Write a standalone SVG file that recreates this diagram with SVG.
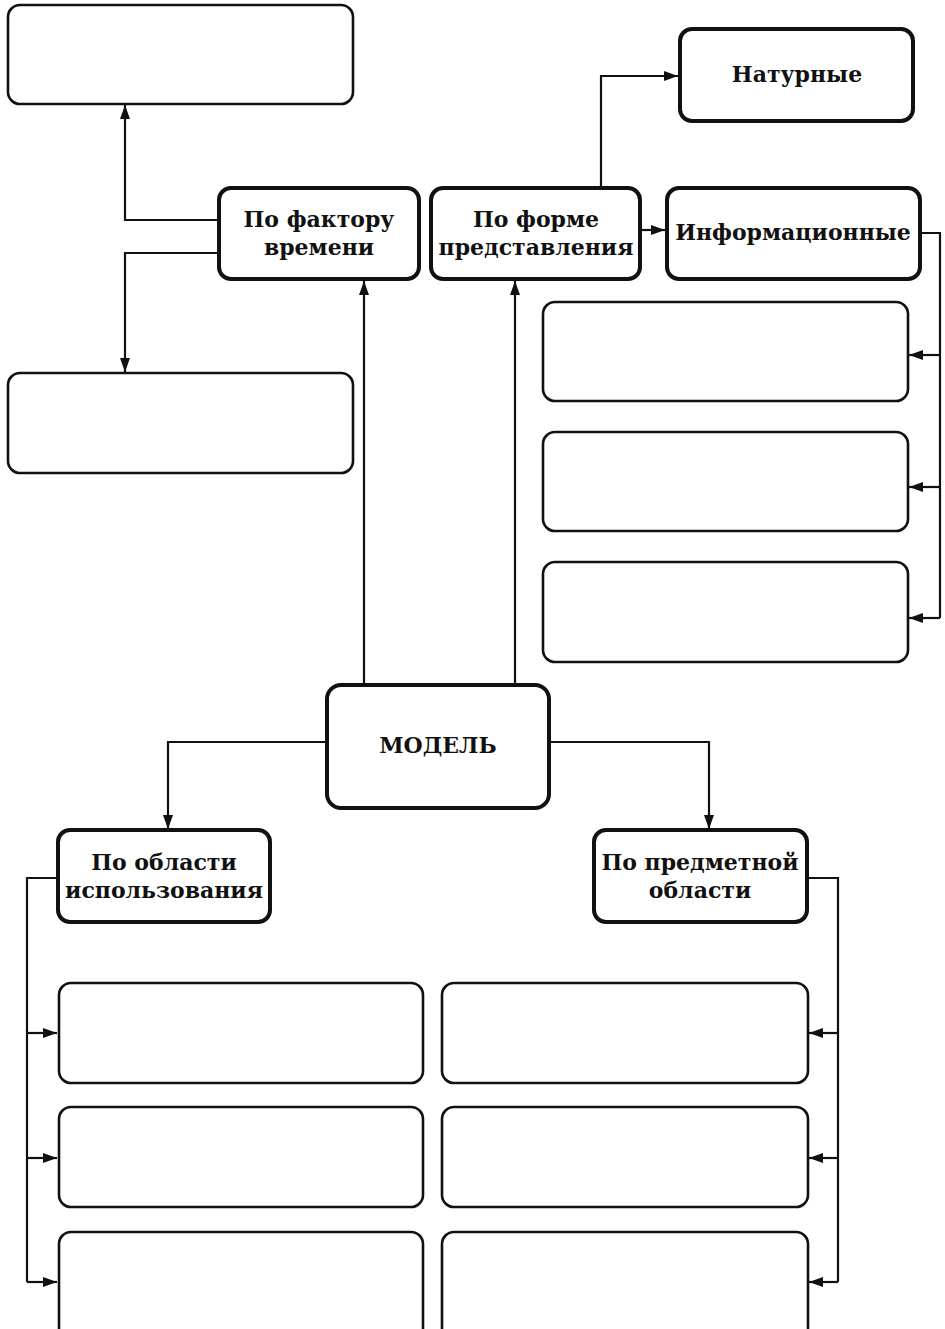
<svg xmlns="http://www.w3.org/2000/svg" width="945" height="1329" viewBox="0 0 945 1329">
<style>
.bg{fill:#fff}
.thin{fill:#fff;stroke:#111;stroke-width:2.6}
.thick{fill:#fff;stroke:#111;stroke-width:4}
.line{fill:none;stroke:#111;stroke-width:2.2}
.arr{marker-end:url(#ah)}
text{font-family:"DejaVu Serif","Liberation Serif",serif;font-weight:bold;font-size:22px;fill:#111;text-anchor:middle}
</style>
<defs>
<marker id="ah" markerUnits="userSpaceOnUse" markerWidth="16" markerHeight="12" refX="14" refY="5" orient="auto">
<path d="M0,0 L14,5 L0,10 z" fill="#111"/>
</marker>
</defs>
<rect class="bg" width="945" height="1329"/>
<g id="connectors">
<path class="line arr" d="M218,220 H125 V105"/>
<path class="line arr" d="M218,253 H125 V372"/>
<path class="line arr" d="M601,188 V76 H678"/>
<path class="line arr" d="M640,230 H665"/>
<path class="line" d="M921,233 H940 V618"/>
<path class="line arr" d="M940,355 H909"/>
<path class="line arr" d="M940,487 H909"/>
<path class="line arr" d="M940,618 H909"/>
<path class="line arr" d="M364,685 V281"/>
<path class="line arr" d="M515,685 V281"/>
<path class="line arr" d="M326,742 H168 V829"/>
<path class="line arr" d="M550,742 H709 V829"/>
<path class="line" d="M57,878 H27 V1282"/>
<path class="line arr" d="M27,1033 H57"/>
<path class="line arr" d="M27,1158 H57"/>
<path class="line arr" d="M27,1282 H57"/>
<path class="line" d="M808,878 H838 V1282"/>
<path class="line arr" d="M838,1033 H809"/>
<path class="line arr" d="M838,1158 H809"/>
<path class="line arr" d="M838,1282 H809"/>
</g>
<g id="time-a"><rect class="thin" x="8" y="5" width="345" height="99" rx="12"/></g>
<g id="time-b"><rect class="thin" x="8" y="373" width="345" height="100" rx="12"/></g>
<g id="factor-time"><rect class="thick" x="219" y="188" width="200" height="91" rx="12"/>
<text x="319" y="227">По фактору</text><text x="319" y="255">времени</text></g>
<g id="form"><rect class="thick" x="431" y="188" width="209" height="91" rx="12"/>
<text x="536" y="227">По форме</text><text x="536" y="255">представления</text></g>
<g id="natural"><rect class="thick" x="680" y="29" width="233" height="92" rx="12"/>
<text x="797" y="82">Натурные</text></g>
<g id="info"><rect class="thick" x="667" y="188" width="253" height="91" rx="12"/>
<text x="793" y="240">Информационные</text></g>
<g id="info-1"><rect class="thin" x="543" y="302" width="365" height="99" rx="12"/></g>
<g id="info-2"><rect class="thin" x="543" y="432" width="365" height="99" rx="12"/></g>
<g id="info-3"><rect class="thin" x="543" y="562" width="365" height="100" rx="12"/></g>
<g id="model"><rect class="thick" x="327" y="685" width="222" height="123" rx="14"/>
<text x="438" y="753">МОДЕЛЬ</text></g>
<g id="use-area"><rect class="thick" x="58" y="830" width="212" height="92" rx="12"/>
<text x="164" y="870">По области</text><text x="164" y="898">использования</text></g>
<g id="subject-area"><rect class="thick" x="594" y="830" width="213" height="92" rx="12"/>
<text x="700" y="870">По предметной</text><text x="700" y="898">области</text></g>
<g id="use-1"><rect class="thin" x="59" y="983" width="364" height="100" rx="12"/></g>
<g id="use-2"><rect class="thin" x="59" y="1107" width="364" height="100" rx="12"/></g>
<g id="use-3"><rect class="thin" x="59" y="1232" width="364" height="110" rx="12"/></g>
<g id="subj-1"><rect class="thin" x="442" y="983" width="366" height="100" rx="12"/></g>
<g id="subj-2"><rect class="thin" x="442" y="1107" width="366" height="100" rx="12"/></g>
<g id="subj-3"><rect class="thin" x="442" y="1232" width="366" height="110" rx="12"/></g>
</svg>
